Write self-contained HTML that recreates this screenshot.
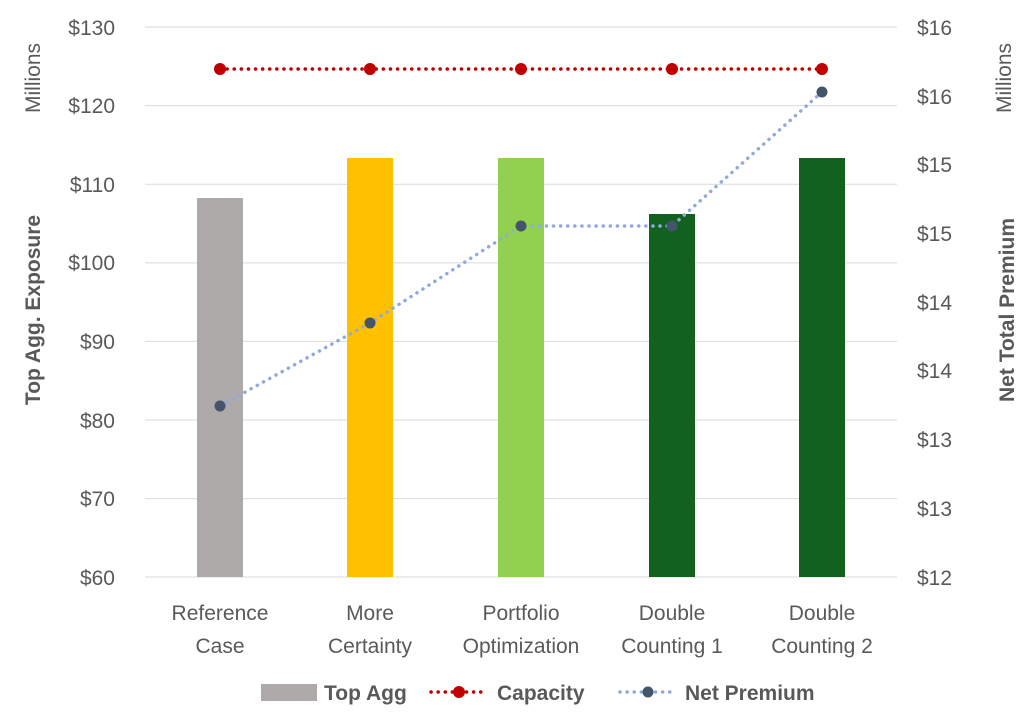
<!DOCTYPE html>
<html><head><meta charset="utf-8"><style>
body{margin:0;background:#fff;}
text{font-family:"Liberation Sans",sans-serif;fill:#595959;}
</style></head><body>
<svg width="1024" height="723" viewBox="0 0 1024 723" xmlns="http://www.w3.org/2000/svg">
<g stroke="#d9d9d9" stroke-width="1">
<line x1="145" x2="897" y1="27" y2="27"/><line x1="145" x2="897" y1="105.6" y2="105.6"/>
<line x1="145" x2="897" y1="184.3" y2="184.3"/><line x1="145" x2="897" y1="262.9" y2="262.9"/>
<line x1="145" x2="897" y1="341.4" y2="341.4"/><line x1="145" x2="897" y1="420" y2="420"/>
<line x1="145" x2="897" y1="498.6" y2="498.6"/><line x1="145" x2="897" y1="577" y2="577"/>
</g>
<rect x="197" y="198" width="46" height="379" fill="#aeaaaa"/>
<rect x="347" y="158" width="46" height="419" fill="#ffc000"/>
<rect x="498" y="158" width="46" height="419" fill="#92d050"/>
<rect x="649" y="214" width="46" height="363" fill="#12611f"/>
<rect x="799" y="158" width="46" height="419" fill="#12611f"/>
<polyline points="220,69 822,69" fill="none" stroke="#c00000" stroke-width="3.5" stroke-dasharray="0.1,7" stroke-linecap="round"/>
<g fill="#c00000"><circle cx="220" cy="69" r="6"/><circle cx="370" cy="69" r="6"/><circle cx="521" cy="69" r="6"/><circle cx="672" cy="69" r="6"/><circle cx="822" cy="69" r="6"/></g>
<polyline points="220,406 370,323 521,226 672,226 822,92" fill="none" stroke="#8faadc" stroke-width="3.5" stroke-dasharray="0.1,7" stroke-linecap="round"/>
<g fill="#44546a"><circle cx="220" cy="406" r="5.5"/><circle cx="370" cy="323" r="5.5"/><circle cx="521" cy="226" r="5.5"/><circle cx="672" cy="226" r="5.5"/><circle cx="822" cy="92" r="5.5"/></g>
<g font-size="21" text-anchor="end">
<text x="115" y="35">$130</text><text x="115" y="113">$120</text><text x="115" y="192">$110</text><text x="115" y="270">$100</text>
<text x="115" y="349">$90</text><text x="115" y="428">$80</text><text x="115" y="506">$70</text><text x="115" y="585">$60</text>
</g>
<g font-size="21">
<text x="917" y="35">$16</text><text x="917" y="104">$16</text><text x="917" y="172">$15</text><text x="917" y="241">$15</text>
<text x="917" y="310">$14</text><text x="917" y="378">$14</text><text x="917" y="447">$13</text><text x="917" y="516">$13</text><text x="917" y="585">$12</text>
</g>
<text transform="translate(40,78) rotate(-90)" font-size="21" text-anchor="middle">Millions</text>
<text transform="translate(1011,78) rotate(-90)" font-size="21" text-anchor="middle">Millions</text>
<text transform="translate(40,310) rotate(-90)" font-size="21" font-weight="bold" text-anchor="middle">Top Agg. Exposure</text>
<text transform="translate(1014,310) rotate(-90)" font-size="21" font-weight="bold" text-anchor="middle">Net Total Premium</text>
<g font-size="21" text-anchor="middle">
<text x="220" y="620">Reference</text><text x="220" y="653">Case</text>
<text x="370" y="620">More</text><text x="370" y="653">Certainty</text>
<text x="521" y="620">Portfolio</text><text x="521" y="653">Optimization</text>
<text x="672" y="620">Double</text><text x="672" y="653">Counting 1</text>
<text x="822" y="620">Double</text><text x="822" y="653">Counting 2</text>
</g>
<rect x="261" y="684" width="56" height="17" fill="#aeaaaa"/>
<text x="324" y="700" font-size="21" font-weight="bold">Top Agg</text>
<line x1="431" y1="692" x2="487" y2="692" stroke="#c00000" stroke-width="3.5" stroke-dasharray="0.1,7" stroke-linecap="round"/>
<circle cx="459" cy="692" r="6" fill="#c00000"/>
<text x="497" y="700" font-size="21" font-weight="bold">Capacity</text>
<line x1="620" y1="692" x2="676" y2="692" stroke="#8faadc" stroke-width="3.5" stroke-dasharray="0.1,7" stroke-linecap="round"/>
<circle cx="648" cy="692" r="5.5" fill="#44546a"/>
<text x="685" y="700" font-size="21" font-weight="bold">Net Premium</text>
</svg>
</body></html>
